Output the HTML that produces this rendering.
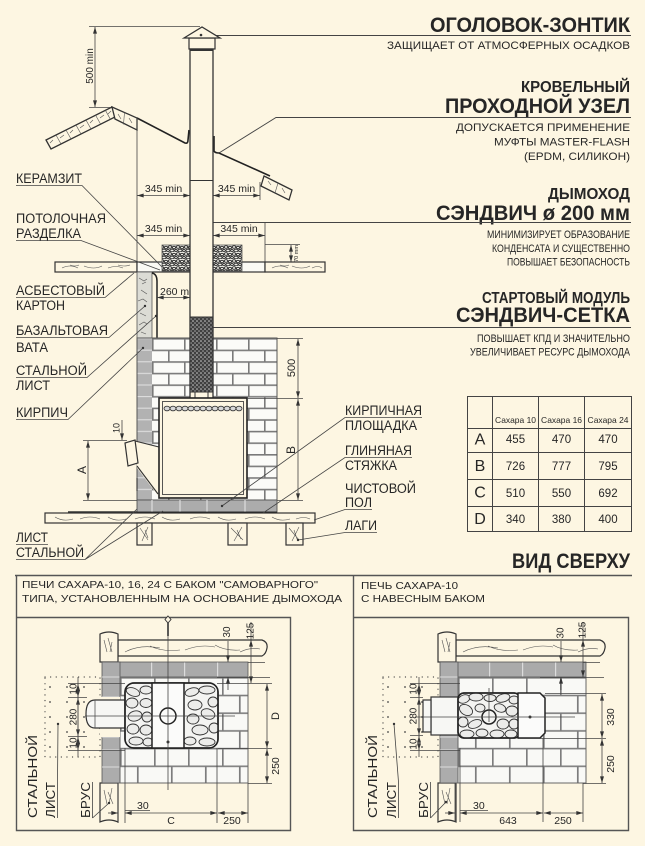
<!DOCTYPE html>
<html lang="ru"><head><meta charset="utf-8"><title>Сахара — схема монтажа</title>
<style>
html,body{margin:0;padding:0;background:#fdf6e2;width:645px;height:846px;overflow:hidden}
svg{display:block}
text{font-family:"Liberation Sans","DejaVu Sans",sans-serif;fill:#262626}
.b{font-weight:bold}
.s{stroke:#333;fill:none;stroke-width:1.3}
.t{stroke:#444;fill:none;stroke-width:0.8}
.d{stroke:#444;fill:none;stroke-width:0.8;marker-start:url(#a);marker-end:url(#a)}
.e{stroke:#444;fill:none;stroke-width:0.8;marker-end:url(#a)}
.g{stroke:#555;fill:none;stroke-width:0.6}
.st{fill:#ececea;stroke:#333;stroke-width:0.9}
</style></head><body>
<svg width="645" height="846" viewBox="0 0 645 846" xmlns="http://www.w3.org/2000/svg">
<defs>
<marker id="a" viewBox="0 0 10 6" refX="10" refY="3" markerWidth="7" markerHeight="4" orient="auto-start-reverse" markerUnits="userSpaceOnUse"><path d="M0,0L10,3L0,6z" fill="#333"/></marker>
<pattern id="brk" patternUnits="userSpaceOnUse" x="152" y="338" width="32" height="23.2">
<rect width="32" height="23.2" fill="#fbfbf8"/>
<path d="M0,0.8H32M0,12.4H32M0.8,0V11.6M16.8,11.6V23.2" stroke="#7a7a7a" stroke-width="1.6"/>
</pattern>
<pattern id="gcol" patternUnits="userSpaceOnUse" x="137" y="338" width="15" height="11.6">
<rect width="15" height="11.6" fill="#b2b2b2"/>
<path d="M0,0.6H15" stroke="#e2e2e2" stroke-width="1"/>
</pattern>
<pattern id="ker" patternUnits="userSpaceOnUse" x="0" y="0" width="8" height="7">
<rect width="8" height="7" fill="#eeede6"/>
<g fill="none" stroke="#2e2e2e" stroke-width="0.9">
<ellipse cx="2" cy="2" rx="1.8" ry="1.3"/><ellipse cx="6" cy="2.5" rx="1.6" ry="1.2"/><ellipse cx="4" cy="5.5" rx="2" ry="1.3"/><ellipse cx="0" cy="5.6" rx="1.4" ry="1.1"/><ellipse cx="8" cy="5.6" rx="1.4" ry="1.1"/>
</g>
</pattern>
<pattern id="mesh" patternUnits="userSpaceOnUse" x="0" y="0" width="4" height="4">
<rect width="4" height="4" fill="#404040"/>
<circle cx="1" cy="1" r="0.8" fill="#d0d0d0"/><circle cx="3" cy="3" r="0.8" fill="#a8a8a8"/>
</pattern>
<pattern id="dots" patternUnits="userSpaceOnUse" x="45" y="677" width="17" height="15">
<circle cx="5" cy="10" r="0.9" fill="#444"/>
</pattern>
<pattern id="tbrk" patternUnits="userSpaceOnUse" x="120" y="677" width="34" height="35.4">
<rect width="34" height="35.4" fill="#f9f9f6"/>
<path d="M0,0.8H34M0,18.5H34M0.8,0V17.7M17.8,17.7V35.4" stroke="#7d7d7d" stroke-width="1.7"/>
</pattern>
<pattern id="gtop" patternUnits="userSpaceOnUse" x="118" y="662" width="33" height="15">
<rect width="33" height="15" fill="#aaaaaa"/>
<path d="M0.6,0V15" stroke="#dcdcdc" stroke-width="1.2"/>
</pattern>
<clipPath id="stL"><rect x="125" y="683" width="93" height="65" rx="9"/></clipPath>
<clipPath id="stR"><rect x="458" y="693" width="62" height="45" rx="6"/></clipPath>
</defs>

<rect width="645" height="846" fill="#fdf6e2"/>

<!-- ================= RIGHT TEXT BLOCK ================= -->
<text class="b" x="430" y="32" font-size="21" textLength="200" lengthAdjust="spacingAndGlyphs">ОГОЛОВОК-ЗОНТИК</text>
<path d="M201,35.5H631" stroke="#444" stroke-width="0.9" fill="none"/>
<circle cx="201" cy="35" r="1.3" fill="#333"/>
<text x="387" y="49" font-size="11" textLength="243" lengthAdjust="spacingAndGlyphs">ЗАЩИЩАЕТ ОТ АТМОСФЕРНЫХ ОСАДКОВ</text>

<text class="b" x="521" y="92" font-size="16" textLength="109" lengthAdjust="spacingAndGlyphs">КРОВЕЛЬНЫЙ</text>
<text class="b" x="445" y="113" font-size="21" textLength="185" lengthAdjust="spacingAndGlyphs">ПРОХОДНОЙ УЗЕЛ</text>
<path d="M219,153L276,117.5H631" stroke="#444" stroke-width="0.9" fill="none"/>
<text x="456" y="131" font-size="11" textLength="174" lengthAdjust="spacingAndGlyphs">ДОПУСКАЕТСЯ ПРИМЕНЕНИЕ</text>
<text x="494" y="145.5" font-size="11" textLength="136" lengthAdjust="spacingAndGlyphs">МУФТЫ MASTER-FLASH</text>
<text x="524" y="160" font-size="11" textLength="106" lengthAdjust="spacingAndGlyphs">(EPDM, СИЛИКОН)</text>

<text class="b" x="548" y="199" font-size="16" textLength="82" lengthAdjust="spacingAndGlyphs">ДЫМОХОД</text>
<text class="b" x="436" y="220" font-size="21" textLength="194" lengthAdjust="spacingAndGlyphs">СЭНДВИЧ ø 200 мм</text>
<path d="M213,222.5H631" stroke="#444" stroke-width="0.9" fill="none"/>
<text x="487" y="238" font-size="11" textLength="143" lengthAdjust="spacingAndGlyphs">МИНИМИЗИРУЕТ ОБРАЗОВАНИЕ</text>
<text x="492" y="252" font-size="11" textLength="138" lengthAdjust="spacingAndGlyphs">КОНДЕНСАТА И СУЩЕСТВЕННО</text>
<text x="507" y="265.5" font-size="11" textLength="123" lengthAdjust="spacingAndGlyphs">ПОВЫШАЕТ БЕЗОПАСНОСТЬ</text>

<text class="b" x="482" y="303" font-size="16" textLength="148" lengthAdjust="spacingAndGlyphs">СТАРТОВЫЙ МОДУЛЬ</text>
<text class="b" x="456" y="322" font-size="21" textLength="174" lengthAdjust="spacingAndGlyphs">СЭНДВИЧ-СЕТКА</text>
<path d="M213,327.5H631" stroke="#444" stroke-width="0.9" fill="none"/>
<text x="477" y="342" font-size="11" textLength="153" lengthAdjust="spacingAndGlyphs">ПОВЫШАЕТ КПД И ЗНАЧИТЕЛЬНО</text>
<text x="470" y="355.5" font-size="11" textLength="160" lengthAdjust="spacingAndGlyphs">УВЕЛИЧИВАЕТ РЕСУРС ДЫМОХОДА</text>

<!-- ================= SIDE VIEW ================= -->
<line class="t" x1="89" y1="26.5" x2="200" y2="26.5"/>
<line class="t" x1="89" y1="107.5" x2="110" y2="107.5"/>
<line class="d" x1="95" y1="27" x2="95" y2="107"/>
<text transform="translate(93,66) rotate(-90)" text-anchor="middle" font-size="10">500 min</text>

<polygon points="46,140 112,107 117,116 51,149" fill="#fdf6e2" stroke="#333" stroke-width="1.3"/>
<path class="g" d="M56,135L61,144M66,130L71,139M76,125L81,134M86,120L91,129M95.5,115L100.5,124M105.4,110.3L110.4,119.3"/>
<path class="g" d="M50,143l3,-3M60,138l4,-3M70,133l3,-3M80,128l4,-3M90,123l3,-3M100,118l4,-3M108,114l3,-3"/>
<polygon points="112,107 137,118 137,130 115,119" fill="#fdf6e2" stroke="#333" stroke-width="1.3"/>
<path class="g" d="M124.5,112.5L123.5,124.5M118,114l3,5M129,118l3,5"/>
<path d="M137,118L185,143Q188,144 188,140L189,130" fill="none" stroke="#222" stroke-width="1.6"/>
<path d="M214,136L214,151Q215,153 219,153L270,176" fill="none" stroke="#222" stroke-width="1.6"/>
<polygon points="264,176 292,190 289,200 261,186" fill="#fdf6e2" stroke="#333" stroke-width="1.3"/>
<path class="g" d="M278,183L275,193M268,181l3,4M282,188l3,5"/>

<line class="t" x1="137" y1="118" x2="137" y2="262"/>
<line class="t" x1="260" y1="182" x2="260" y2="200"/>
<line class="t" x1="265" y1="222" x2="265" y2="262"/>
<line class="d" x1="137" y1="195.5" x2="190" y2="195.5"/>
<line class="d" x1="213" y1="195.5" x2="260" y2="195.5"/>
<text x="163.5" y="192" font-size="10.5" text-anchor="middle">345 min</text>
<text x="236.5" y="192" font-size="10.5" text-anchor="middle">345 min</text>
<line class="d" x1="137" y1="235.5" x2="190" y2="235.5"/>
<line class="d" x1="213" y1="235.5" x2="265" y2="235.5"/>
<text x="163.5" y="232" font-size="10.5" text-anchor="middle">345 min</text>
<text x="239" y="232" font-size="10.5" text-anchor="middle">345 min</text>
<line class="t" x1="265" y1="244.5" x2="300" y2="244.5"/>
<line class="d" x1="291" y1="245" x2="291" y2="262"/>
<text transform="translate(298,253.5) rotate(-90)" text-anchor="middle" font-size="5.5">70 mm</text>

<rect x="55" y="262" width="82" height="10" fill="#fdf6e2" stroke="#333" stroke-width="1.2"/>
<path class="g" d="M62,268q8,-4 16,0M84,266q10,4 18,0M108,268q8,-3 15,0M70,265q5,2 9,0M118,265q6,2 12,0"/>
<rect x="137" y="262" width="128" height="10" fill="#fbfaf4" stroke="#333" stroke-width="1.2"/>
<rect x="265" y="262" width="60" height="10" fill="#fdf6e2" stroke="#333" stroke-width="1.2"/>
<path class="g" d="M272,268q8,-4 16,0M292,266q10,4 18,0M312,268q6,-3 10,0M280,265q5,2 9,0"/>
<rect x="162" y="245" width="28" height="26" fill="url(#ker)" stroke="#444" stroke-width="0.7"/>
<rect x="213" y="245" width="29" height="26" fill="url(#ker)" stroke="#444" stroke-width="0.7"/>

<rect x="137" y="272" width="15" height="66" fill="#dcdcd5" stroke="#555" stroke-width="0.8"/>
<path class="g" d="M139,278l5,3 3,-2M141,290l6,4M138,301l5,-2 4,3M140,313l6,3M139,325l5,-3 3,2M142,284l4,-2M141,332l5,2"/>
<path d="M152,273Q157,274 157,281L157,349L154,351" fill="none" stroke="#222" stroke-width="1.5"/>

<line class="d" x1="157" y1="297.5" x2="190" y2="297.5"/>
<text x="160" y="295" font-size="10.5">260 min</text>

<rect x="137" y="338" width="15" height="162" fill="url(#gcol)"/>
<rect x="152" y="338" width="125" height="162" fill="url(#brk)"/>
<rect x="137" y="338" width="140" height="162" fill="none" stroke="#555" stroke-width="1"/>

<rect x="189" y="38" width="26" height="11" fill="#fdf6e2" stroke="#333" stroke-width="1.2"/>
<polygon points="184,38 202,27 220,38" fill="#fdf6e2" stroke="#333" stroke-width="1.3"/>
<circle cx="201" cy="35" r="1.3" fill="#333"/>
<rect x="190" y="49" width="23" height="350" fill="#fdf6e2" stroke="#333" stroke-width="1.3"/>
<line x1="190" y1="50" x2="213" y2="50" stroke="#333" stroke-width="2"/>
<line x1="190" y1="180.5" x2="213" y2="180.5" stroke="#333" stroke-width="1"/>
<rect x="190" y="317" width="23" height="75" fill="url(#mesh)" stroke="#333" stroke-width="1"/>
<rect x="195" y="392" width="13" height="7" fill="#fdf6e2" stroke="#333" stroke-width="1"/>

<polygon points="135,441 159,447 159,497 137,468" fill="#fdf6e2"/>
<path d="M135,441L159,447M137,466L158,494M137,478V491" fill="none" stroke="#333" stroke-width="1.1"/>
<polygon points="125,443 135,440 138,463 128,466" fill="#fdf6e2" stroke="#333" stroke-width="1.2"/>

<rect x="159" y="398" width="88" height="100" fill="#fdf6e2" stroke="#222" stroke-width="1.6"/>
<rect x="162.5" y="401.5" width="81" height="93" fill="none" stroke="#444" stroke-width="0.9"/>
<g fill="#d8d8d8" stroke="#333" stroke-width="0.8">
<ellipse cx="167" cy="408.5" rx="3" ry="2.3"/><ellipse cx="173" cy="408.5" rx="3" ry="2.3"/><ellipse cx="179" cy="408.5" rx="3" ry="2.3"/><ellipse cx="185" cy="408.5" rx="3" ry="2.3"/><ellipse cx="191" cy="408.5" rx="3" ry="2.3"/><ellipse cx="197" cy="408.5" rx="3" ry="2.3"/><ellipse cx="203" cy="408.5" rx="3" ry="2.3"/><ellipse cx="209" cy="408.5" rx="3" ry="2.3"/><ellipse cx="215" cy="408.5" rx="3" ry="2.3"/><ellipse cx="221" cy="408.5" rx="3" ry="2.3"/><ellipse cx="227" cy="408.5" rx="3" ry="2.3"/><ellipse cx="233" cy="408.5" rx="3" ry="2.3"/><ellipse cx="239" cy="408.5" rx="3" ry="2.3"/>
</g>

<rect x="137" y="500" width="140" height="12" fill="#acacac" stroke="#555" stroke-width="0.9"/>
<path d="M152,500V512M180,500V512M207,500V512M245,500V512" stroke="#dedede" stroke-width="1.2"/>
<path d="M137,512.5H277" stroke="#222" stroke-width="1.8"/>
<path d="M68,512H137" stroke="#333" stroke-width="1.5"/>
<rect x="45" y="513" width="270" height="10" fill="#fdf6e2" stroke="#333" stroke-width="1.2"/>
<path class="g" d="M55,517q8,5 18,2M80,519q10,-4 20,0M108,517q8,5 18,2M135,519q10,-4 20,0M162,517q8,5 18,2M190,519q10,-4 20,0M218,517q8,5 18,2M245,519q10,-4 20,0M272,517q8,5 18,2M296,519q8,-3 14,0"/>
<rect x="137" y="523" width="15" height="22" fill="#fdf6e2" stroke="#333" stroke-width="1.2"/>
<rect x="228" y="523" width="19" height="22" fill="#fdf6e2" stroke="#333" stroke-width="1.2"/>
<rect x="286" y="523" width="17" height="22" fill="#fdf6e2" stroke="#333" stroke-width="1.2"/>
<path class="g" d="M140,528l8,12M148,527l-6,14M145,530l3,8M231,528l12,12M242,527l-8,14M237,530l4,9M289,528l10,12M299,527l-7,14M294,530l3,9"/>

<line class="t" x1="83" y1="440.5" x2="127" y2="440.5"/>
<line class="e" x1="122" y1="420" x2="122" y2="440"/>
<text transform="translate(119.5,428) rotate(-90)" text-anchor="middle" font-size="9">10</text>
<line class="t" x1="83" y1="500.5" x2="137" y2="500.5"/>
<line class="d" x1="88" y1="441" x2="88" y2="500"/>
<text transform="translate(86,470) rotate(-90)" text-anchor="middle" font-size="12">A</text>
<line class="t" x1="247" y1="398.5" x2="303" y2="398.5"/>
<line class="t" x1="277" y1="500.5" x2="303" y2="500.5"/>
<line class="t" x1="277" y1="338.5" x2="303" y2="338.5"/>
<line class="d" x1="298" y1="339" x2="298" y2="398"/>
<line class="d" x1="298" y1="399" x2="298" y2="500"/>
<text transform="translate(295,368) rotate(-90)" text-anchor="middle" font-size="11">500</text>
<text transform="translate(295,450) rotate(-90)" text-anchor="middle" font-size="12">B</text>

<g font-size="13.5">
<text x="16" y="183" textLength="66" lengthAdjust="spacingAndGlyphs">КЕРАМЗИТ</text>
<text x="16" y="223" textLength="90" lengthAdjust="spacingAndGlyphs">ПОТОЛОЧНАЯ</text>
<text x="16" y="238" textLength="65" lengthAdjust="spacingAndGlyphs">РАЗДЕЛКА</text>
<text x="16" y="295" textLength="89" lengthAdjust="spacingAndGlyphs">АСБЕСТОВЫЙ</text>
<text x="16" y="310" textLength="49" lengthAdjust="spacingAndGlyphs">КАРТОН</text>
<text x="16" y="335" textLength="92" lengthAdjust="spacingAndGlyphs">БАЗАЛЬТОВАЯ</text>
<text x="16" y="352" textLength="32" lengthAdjust="spacingAndGlyphs">ВАТА</text>
<text x="16" y="375" textLength="71" lengthAdjust="spacingAndGlyphs">СТАЛЬНОЙ</text>
<text x="16" y="390" textLength="34" lengthAdjust="spacingAndGlyphs">ЛИСТ</text>
<text x="16" y="417" textLength="52" lengthAdjust="spacingAndGlyphs">КИРПИЧ</text>
<text x="345" y="415" textLength="77" lengthAdjust="spacingAndGlyphs">КИРПИЧНАЯ</text>
<text x="345" y="430" textLength="72" lengthAdjust="spacingAndGlyphs">ПЛОЩАДКА</text>
<text x="345" y="455" textLength="67" lengthAdjust="spacingAndGlyphs">ГЛИНЯНАЯ</text>
<text x="345" y="470" textLength="52" lengthAdjust="spacingAndGlyphs">СТЯЖКА</text>
<text x="345" y="493" textLength="71" lengthAdjust="spacingAndGlyphs">ЧИСТОВОЙ</text>
<text x="345" y="507" textLength="27" lengthAdjust="spacingAndGlyphs">ПОЛ</text>
<text x="345" y="530" textLength="32" lengthAdjust="spacingAndGlyphs">ЛАГИ</text>
<text x="16" y="542" textLength="32" lengthAdjust="spacingAndGlyphs">ЛИСТ</text>
<text x="16" y="557" textLength="68" lengthAdjust="spacingAndGlyphs">СТАЛЬНОЙ</text>
</g>
<g fill="none" stroke="#444" stroke-width="0.8">
<path d="M16,185.5H82L162,267"/>
<path d="M16,240.5H81L160,270"/>
<path d="M16,297.5H105L134,273"/>
<path d="M16,337.5H109L145,306"/>
<path d="M16,377.5H87L156,316"/>
<path d="M16,419.5H68L143,348"/>
<path d="M422,417.5H345L222,506"/>
<path d="M412,457.5H345L263,513"/>
<path d="M372,509.5H345L314,520"/>
<path d="M377,532.5H345L298,540"/>
<path d="M16,544.5H48"/>
<path d="M16,559.5H85L137,509M85,559.5L163,511"/>
</g>
<g fill="#333">
<circle cx="145" cy="306" r="1.2"/><circle cx="156" cy="316" r="1.2"/><circle cx="143" cy="348" r="1.2"/><circle cx="222" cy="506" r="1.2"/><circle cx="298" cy="540" r="1.2"/>
</g>

<!-- ================= TABLE ================= -->
<g stroke="#444" stroke-width="1" fill="none">
<rect x="467.5" y="396.5" width="164" height="135"/>
<path d="M492.5,396V532M538.5,396V532M584.5,396V532M467,428.5H632M467,452.5H632M467,479.5H632M467,506.5H632"/>
</g>
<g font-size="8.5" text-anchor="middle">
<text x="515.5" y="423" textLength="41" lengthAdjust="spacingAndGlyphs">Сахара 10</text>
<text x="561.5" y="423" textLength="41" lengthAdjust="spacingAndGlyphs">Сахара 16</text>
<text x="608" y="423" textLength="41" lengthAdjust="spacingAndGlyphs">Сахара 24</text>
</g>
<g font-size="16" text-anchor="middle">
<text x="480" y="444.5">A</text><text x="480" y="471">B</text><text x="480" y="497.5">C</text><text x="480" y="524">D</text>
</g>
<g font-size="11.5" text-anchor="middle">
<text x="515.5" y="443">455</text><text x="561.5" y="443">470</text><text x="608" y="443">470</text>
<text x="515.5" y="470">726</text><text x="561.5" y="470">777</text><text x="608" y="470">795</text>
<text x="515.5" y="497">510</text><text x="561.5" y="497">550</text><text x="608" y="497">692</text>
<text x="515.5" y="523">340</text><text x="561.5" y="523">380</text><text x="608" y="523">400</text>
</g>

<text class="b" x="512" y="568" font-size="21" textLength="118" lengthAdjust="spacingAndGlyphs">ВИД СВЕРХУ</text>

<!-- ================= TOP VIEW FRAMES ================= -->
<g fill="none" stroke="#555" stroke-width="1.4">
<path d="M15,575.5H632"/>
<path d="M16.5,575V830.5H290.5V617.5H16.5"/>
<path d="M353.5,575V830.5H628.5V617.5H353.5"/>
</g>
<text x="22" y="588" font-size="10.5" textLength="296" lengthAdjust="spacingAndGlyphs">ПЕЧИ САХАРА-10, 16, 24 С БАКОМ "САМОВАРНОГО"</text>
<text x="22" y="602" font-size="10.5" textLength="320" lengthAdjust="spacingAndGlyphs">ТИПА, УСТАНОВЛЕННЫМ НА ОСНОВАНИЕ ДЫМОХОДА</text>
<text x="361" y="589" font-size="10.5" textLength="97" lengthAdjust="spacingAndGlyphs">ПЕЧЬ САХАРА-10</text>
<text x="361" y="602" font-size="10.5" textLength="124" lengthAdjust="spacingAndGlyphs">С НАВЕСНЫМ БАКОМ</text>

<g id="tv">
<rect x="45" y="677" width="55" height="80" fill="url(#dots)"/>
<rect x="45" y="677" width="55" height="80" fill="none" stroke="#444" stroke-width="1.2" stroke-linecap="round" stroke-dasharray="0.1,5.5"/>
<path d="M118,640H262q6,2 5,8q-1,6 -5,8H118Z" fill="#fdf6e2" stroke="#333" stroke-width="1.2"/>
<path class="g" d="M125,652q15,-8 35,-4M150,646q12,6 30,4M185,650q15,-6 30,-3M215,645q10,6 25,5M240,652q10,-5 20,-3"/>
<path d="M100,634q9,-4 18,0V662H100Z" fill="#fdf6e2" stroke="#333" stroke-width="1.2"/>
<path class="g" d="M104,640l3,12M108,638l4,14M112,642l-2,10"/>
<path d="M100,783H118V822q-9,-4 -18,0Z" fill="#fdf6e2" stroke="#333" stroke-width="1.2"/>
<path class="g" d="M104,790l3,14M108,792l5,12M112,788l-3,16"/>
<rect x="118" y="662" width="130" height="15" fill="url(#gtop)" stroke="#555" stroke-width="0.8"/>
<rect x="102" y="662" width="18" height="121" fill="#acacac" stroke="#555" stroke-width="0.8"/>
<path d="M102,677H120M102,697H120M102,737H120M102,750H120M102,767H120" stroke="#dcdcdc" stroke-width="1"/>
<rect x="120" y="677" width="128" height="106" fill="url(#tbrk)" stroke="#666" stroke-width="1"/>
</g>
<use href="#tv" transform="translate(338,0)"/>

<!-- ===== LEFT PANEL specifics ===== -->
<rect x="100" y="697" width="20" height="40" fill="#fdf6e2"/>
<path d="M95,700H125V728H95Q86,728 86,714Q86,700 95,700Z" fill="#f7f7f4" stroke="#333" stroke-width="1.2"/>
<line x1="95" y1="700" x2="95" y2="728" stroke="#555" stroke-width="0.8"/>
<rect x="125" y="683" width="93" height="65" rx="9" fill="#f4f4f2" stroke="#222" stroke-width="1.5"/>
<g clip-path="url(#stL)" class="st">
<ellipse cx="133" cy="692" rx="7" ry="4" transform="rotate(20 133 692)"/><ellipse cx="146" cy="690" rx="6" ry="4"/>
<ellipse cx="132" cy="703" rx="6" ry="5"/><ellipse cx="146" cy="703" rx="6" ry="4.5"/>
<ellipse cx="135" cy="716" rx="7" ry="5" transform="rotate(-15 135 716)"/><ellipse cx="147" cy="717" rx="5" ry="5"/>
<ellipse cx="133" cy="729" rx="6" ry="5"/><ellipse cx="146" cy="730" rx="6" ry="5"/>
<ellipse cx="136" cy="741" rx="7" ry="4"/><ellipse cx="148" cy="742" rx="5" ry="4"/>
<ellipse cx="192" cy="692" rx="7" ry="4" transform="rotate(-15 192 692)"/><ellipse cx="207" cy="690" rx="8" ry="4"/>
<ellipse cx="213" cy="702" rx="5" ry="5"/><ellipse cx="195" cy="705" rx="7" ry="5"/>
<ellipse cx="208" cy="714" rx="7" ry="5" transform="rotate(20 208 714)"/><ellipse cx="193" cy="719" rx="6" ry="5"/>
<ellipse cx="200" cy="730" rx="8" ry="5"/><ellipse cx="214" cy="728" rx="5" ry="5"/>
<ellipse cx="190" cy="741" rx="6" ry="4"/><ellipse cx="207" cy="742" rx="8" ry="4"/>
</g>
<rect x="125" y="683" width="93" height="65" rx="9" fill="none" stroke="#222" stroke-width="1.5"/>
<rect x="152" y="683" width="32" height="65" fill="#fbfbfa" stroke="#222" stroke-width="1.5"/>
<circle cx="168" cy="716" r="8" fill="none" stroke="#222" stroke-width="1.5"/>
<circle cx="168" cy="742" r="1.5" fill="#333"/>
<line class="t" x1="168" y1="624" x2="168" y2="790"/>
<line class="t" x1="85" y1="716" x2="235" y2="716"/>
<path d="M168,616l3,3.5 -3,3.5 -3,-3.5z" fill="#fdf6e2" stroke="#333" stroke-width="0.9"/>
<line x1="168" y1="623" x2="168" y2="636" stroke="#333" stroke-width="1.6"/>
<g class="t">
<path d="M68,683.5H125M68,697.5H87M68,736.5H87M68,750.5H125"/>
<path d="M217,677.5H270M217,683.5H272M248,662.5H265M218,748.5H272M248,783.5H272"/>
<path d="M125,748V823M217,748V823M248,783V823M118,783V823"/>
</g>
<line class="d" x1="78" y1="684" x2="78" y2="697"/>
<line class="d" x1="78" y1="698" x2="78" y2="736"/>
<line class="d" x1="78" y1="737" x2="78" y2="750"/>
<line class="t" x1="78" y1="677" x2="78" y2="757"/>
<text transform="translate(76.5,689) rotate(-90)" text-anchor="middle" font-size="10">10</text>
<text transform="translate(76.5,717) rotate(-90)" text-anchor="middle" font-size="10">280</text>
<text transform="translate(76.5,743) rotate(-90)" text-anchor="middle" font-size="10">10</text>
<line class="e" x1="228" y1="641" x2="228" y2="662"/>
<line class="e" x1="228" y1="690" x2="228" y2="677"/>
<line class="d" x1="251" y1="640" x2="251" y2="683"/>
<line class="t" x1="251" y1="622" x2="251" y2="640"/>
<text transform="translate(230,632) rotate(-90)" text-anchor="middle" font-size="10">30</text>
<text transform="translate(253.5,631) rotate(-90)" text-anchor="middle" font-size="10">125</text>
<line class="d" x1="267" y1="684" x2="267" y2="748"/>
<line class="d" x1="267" y1="749" x2="267" y2="783"/>
<text transform="translate(279,716) rotate(-90)" text-anchor="middle" font-size="11">D</text>
<text transform="translate(279,766) rotate(-90)" text-anchor="middle" font-size="10.5">250</text>
<line class="d" x1="125" y1="813" x2="217" y2="813"/>
<line class="d" x1="218" y1="813" x2="248" y2="813"/>
<line class="e" x1="108" y1="813" x2="118" y2="813"/>
<line class="t" x1="125" y1="810.5" x2="150" y2="810.5"/>
<text x="137" y="809" font-size="10.5">30</text>
<text x="171" y="824" font-size="10.5" text-anchor="middle">C</text>
<text x="232" y="824" font-size="10.5" text-anchor="middle">250</text>
<g font-size="13">
<text transform="translate(37,818) rotate(-90)" textLength="83" lengthAdjust="spacingAndGlyphs">СТАЛЬНОЙ</text>
<text transform="translate(55,818) rotate(-90)" textLength="36" lengthAdjust="spacingAndGlyphs">ЛИСТ</text>
<text transform="translate(90,818) rotate(-90)" textLength="36" lengthAdjust="spacingAndGlyphs">БРУС</text>
</g>
<path d="M57.5,818V782L58,724M92.5,818V782M92.5,818L109,803" fill="none" stroke="#444" stroke-width="0.8"/>
<circle cx="58" cy="724" r="1.2" fill="#333"/><circle cx="109" cy="803" r="1.2" fill="#333"/>

<!-- ===== RIGHT PANEL specifics ===== -->
<rect x="438" y="697" width="20" height="38" fill="#fdf6e2"/>
<rect x="431" y="697" width="29" height="38" fill="#f7f7f4" stroke="#333" stroke-width="1.2"/>
<rect x="423" y="700" width="8" height="32" fill="#f7f7f4" stroke="#333" stroke-width="1.2"/>
<rect x="458" y="693" width="62" height="45" rx="6" fill="#f4f4f2" stroke="#222" stroke-width="1.5"/>
<g clip-path="url(#stR)" class="st">
<ellipse cx="464" cy="699" rx="6" ry="4" transform="rotate(-20 464 699)"/><ellipse cx="476" cy="697" rx="7" ry="4"/><ellipse cx="490" cy="698" rx="6" ry="3.5"/><ellipse cx="503" cy="698" rx="7" ry="4" transform="rotate(-15 503 698)"/><ellipse cx="514" cy="700" rx="5" ry="4"/>
<ellipse cx="466" cy="710" rx="7" ry="5" transform="rotate(30 466 710)"/><ellipse cx="480" cy="708" rx="5" ry="4"/><ellipse cx="500" cy="708" rx="6" ry="4" transform="rotate(20 500 708)"/><ellipse cx="512" cy="711" rx="6" ry="5"/>
<ellipse cx="463" cy="722" rx="5" ry="5"/><ellipse cx="475" cy="724" rx="7" ry="4" transform="rotate(-20 475 724)"/><ellipse cx="503" cy="724" rx="6" ry="5"/><ellipse cx="514" cy="724" rx="5" ry="5"/>
<ellipse cx="467" cy="734" rx="7" ry="4"/><ellipse cx="482" cy="733" rx="6" ry="4"/><ellipse cx="497" cy="734" rx="7" ry="4"/><ellipse cx="511" cy="734" rx="6" ry="4"/>
</g>
<rect x="458" y="693" width="62" height="45" rx="6" fill="none" stroke="#222" stroke-width="1.5"/>
<polygon points="518,693 540,693 545,698 545,733 540,738 518,738" fill="#fbfbfa" stroke="#222" stroke-width="1.5"/>
<circle cx="530" cy="717" r="1.5" fill="#333"/>
<circle cx="489" cy="717" r="7" fill="#f4f4f2" stroke="#222" stroke-width="1.5"/>
<line class="t" x1="415" y1="717" x2="575" y2="717"/>
<line class="t" x1="489" y1="688" x2="489" y2="722"/>
<g class="t">
<path d="M410,683.5H460M410,697.5H423M410,735.5H423M410,750.5H460"/>
<path d="M545,693.5H606M518,738.5H606M583,783.5H606M583,662.5H600M540,677.5H604"/>
<path d="M455,783V822M460,748V822M543,738V822M583,783V822"/>
</g>
<line class="d" x1="419" y1="684" x2="419" y2="697"/>
<line class="d" x1="419" y1="698" x2="419" y2="735"/>
<line class="d" x1="419" y1="736" x2="419" y2="750"/>
<line class="t" x1="419" y1="677" x2="419" y2="757"/>
<text transform="translate(416.5,689) rotate(-90)" text-anchor="middle" font-size="10">10</text>
<text transform="translate(416.5,716) rotate(-90)" text-anchor="middle" font-size="10">280</text>
<text transform="translate(416.5,744) rotate(-90)" text-anchor="middle" font-size="10">10</text>
<line class="e" x1="561" y1="641" x2="561" y2="662"/>
<line class="e" x1="561" y1="690" x2="561" y2="677"/>
<line class="d" x1="583" y1="640" x2="583" y2="677"/>
<line class="t" x1="583" y1="622" x2="583" y2="640"/>
<text transform="translate(563.5,633) rotate(-90)" text-anchor="middle" font-size="10">30</text>
<text transform="translate(585.5,630) rotate(-90)" text-anchor="middle" font-size="10">125</text>
<line class="d" x1="602" y1="694" x2="602" y2="738"/>
<line class="d" x1="602" y1="739" x2="602" y2="783"/>
<text transform="translate(614,717) rotate(-90)" text-anchor="middle" font-size="10.5">330</text>
<text transform="translate(614,764) rotate(-90)" text-anchor="middle" font-size="10.5">250</text>
<line class="d" x1="460" y1="813" x2="543" y2="813"/>
<line class="d" x1="544" y1="813" x2="583" y2="813"/>
<line class="e" x1="445" y1="813" x2="455" y2="813"/>
<line class="t" x1="460" y1="810.5" x2="488" y2="810.5"/>
<text x="473" y="809" font-size="10.5">30</text>
<text x="508" y="824" font-size="10.5" text-anchor="middle">643</text>
<text x="563" y="824" font-size="10.5" text-anchor="middle">250</text>
<g font-size="13">
<text transform="translate(377,818) rotate(-90)" textLength="83" lengthAdjust="spacingAndGlyphs">СТАЛЬНОЙ</text>
<text transform="translate(396,818) rotate(-90)" textLength="36" lengthAdjust="spacingAndGlyphs">ЛИСТ</text>
<text transform="translate(428,818) rotate(-90)" textLength="36" lengthAdjust="spacingAndGlyphs">БРУС</text>
</g>
<path d="M398.5,818V782L394,724M430.5,818V782M430.5,818L446,802" fill="none" stroke="#444" stroke-width="0.8"/>
<circle cx="394" cy="724" r="1.2" fill="#333"/><circle cx="446" cy="802" r="1.2" fill="#333"/>
</svg>
</body></html>
